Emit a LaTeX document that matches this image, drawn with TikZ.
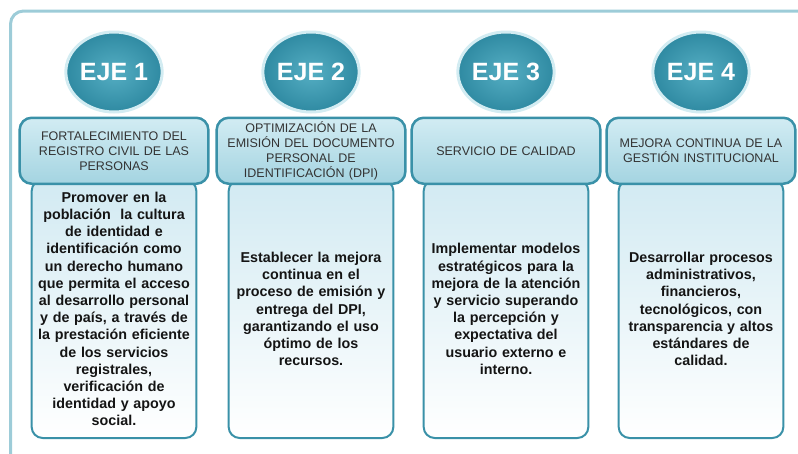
\documentclass[tikz,border=0pt]{standalone}
\usepackage{fontspec}
\setmainfont{Liberation Sans}
\usetikzlibrary{positioning,backgrounds,shapes.geometric}
\definecolor{framecol}{HTML}{9DCCD8}
\definecolor{ejelight}{HTML}{55AEC3}
\definecolor{ejedark}{HTML}{2F8AA2}
\definecolor{ejehalo}{HTML}{D3ECF2}
\definecolor{ejeline}{HTML}{3A91A8}
\definecolor{headtop}{HTML}{D2ECF3}
\definecolor{headbot}{HTML}{A4D4E1}
\definecolor{bodytop}{HTML}{D2EAF2}
\definecolor{headtext}{HTML}{333333}
\definecolor{bodytext}{HTML}{141414}

\begin{document}
\begin{tikzpicture}[x=1pt, y=-1pt,
                    node distance=3pt,
                    line width=2pt,
                    ]
    \tikzstyle{eje}=[ellipse,minimum width=92pt,minimum height=80pt,inner sep=0pt,
                     draw=ejehalo,line width=3pt,inner color=ejelight,outer color=ejedark,
                     text=white,font=\bfseries\fontsize{25}{30}\selectfont]
    \tikzstyle{axis}=[rectangle,rounded corners=12pt,draw=ejeline,line width=2.5pt,
                      top color=headtop,bottom color=headbot,
                      minimum width=186pt,minimum height=66pt,text width=182pt,align=center,
                      text=headtext,font=\fontsize{12.5}{15}\selectfont]
    \tikzstyle{goal}=[rectangle,rounded corners=11pt,draw=ejeline,line width=2pt,
                      top color=bodytop,bottom color=white,
                      minimum width=160pt,minimum height=258pt,text width=158pt,align=center,
                      text=bodytext,font=\bfseries\fontsize{14.3}{17.2}\selectfont]

    \useasboundingbox (0,0) rectangle (798,453);
    \draw[framecol, line width=3pt, rounded corners=13pt] (10.5,460) -- (10.5,11) -- (810,11);

    \node[eje] (e1) at (114,72) {EJE 1};
    \node[eje] (e2) at (311,72) {EJE 2};
    \node[eje] (e3) at (506,72) {EJE 3};
    \node[eje] (e4) at (701,72) {EJE 4};

    \node[axis, below=of e1] (h1) {FORTALECIMIENTO DEL\\ REGISTRO CIVIL DE LAS\\ PERSONAS};
    \node[axis, below=of e2] (h2) {OPTIMIZACIÓN DE LA\\ EMISIÓN DEL DOCUMENTO\\ PERSONAL DE\\ IDENTIFICACIÓN (DPI)};
    \node[axis, below=of e3] (h3) {SERVICIO DE CALIDAD};
    \node[axis, below=of e4] (h4) {MEJORA CONTINUA DE LA\\ GESTIÓN INSTITUCIONAL};

    \begin{scope}[on background layer]
    \node[goal, below=-6pt of h1] (g1) {Promover en la\\ población\ \ la cultura\\ de identidad e\\ identificación como\\ un derecho humano\\ que permita el acceso\\ al desarrollo personal\\ y de país, a través de\\ la prestación eficiente\\ de los servicios\\ registrales,\\ verificación de\\ identidad y apoyo\\ social.};
    \node[goal, below=-6pt of h2] (g2) {Establecer la mejora\\ continua en el\\ proceso de emisión y\\ entrega del DPI,\\ garantizando el uso\\ óptimo de los\\ recursos.};
    \node[goal, below=-6pt of h3] (g3) {Implementar modelos\\ estratégicos para la\\ mejora de la atención\\ y servicio superando\\ la percepción y\\ expectativa del\\ usuario externo e\\ interno.};
    \node[goal, below=-6pt of h4] (g4) {Desarrollar procesos\\ administrativos,\\ financieros,\\ tecnológicos, con\\ transparencia y altos\\ estándares de\\ calidad.};
    \end{scope}
\end{tikzpicture}
\end{document}
